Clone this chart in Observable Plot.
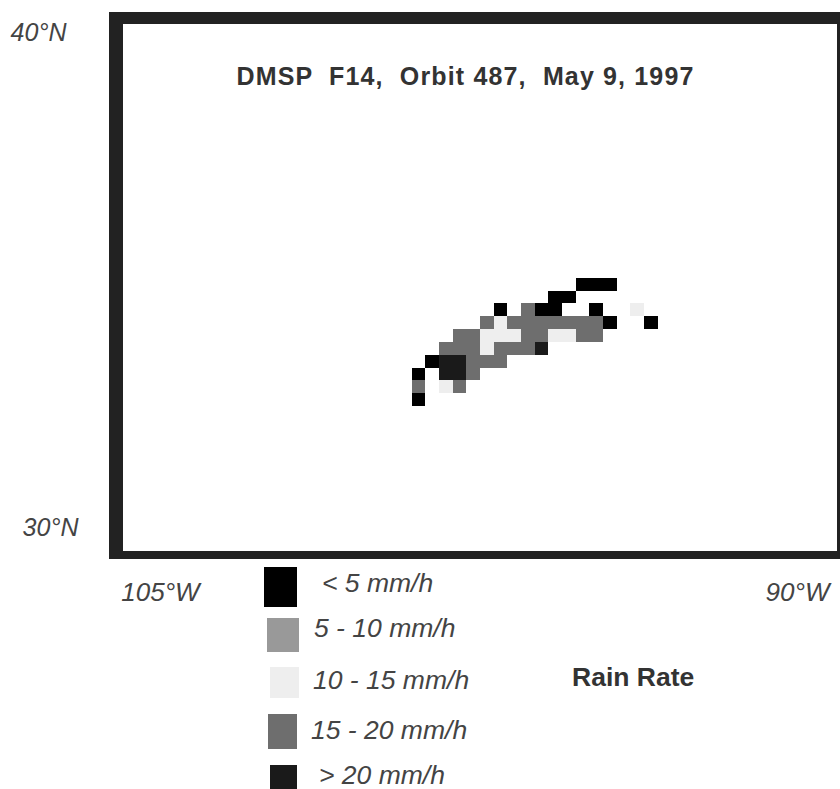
<!DOCTYPE html>
<html><head><meta charset="utf-8">
<script src="https://cdn.jsdelivr.net/npm/d3@7"></script>
<script src="https://cdn.jsdelivr.net/npm/@observablehq/plot@0.6"></script>
<style>
html,body{margin:0;padding:0;background:#fff;width:840px;height:789px;overflow:hidden}
#wrap{position:relative;width:840px;height:789px}
#legend{position:absolute;left:0;top:0;width:840px;height:789px;font-family:"Liberation Sans",Arial,sans-serif}
#legend .sw{position:absolute}
#legend .lb{position:absolute;font-style:italic;font-size:26.5px;color:#444;white-space:nowrap;line-height:24px}
#legend .rr{position:absolute;font-weight:bold;font-size:26.5px;color:#333;white-space:nowrap;line-height:24px}
</style></head><body>
<div id="wrap"><div id="chart"></div><div id="legend"></div></div>
<script>
const title = "DMSP  F14,  Orbit 487,  May 9, 1997";
const classes = ["< 5 mm/h","5 - 10 mm/h","10 - 15 mm/h","15 - 20 mm/h","> 20 mm/h"];
const classColors = ["#000000","#999999","#eeeeee","#6e6e6e","#1a1a1a"];
const lonTicks = [-105,-90];
// grid cells: [row, first column, last column, class index]
const cellRuns = [
 [0,12,14,0],
 [1,10,11,0],
 [2,6,6,0],[2,8,8,3],[2,9,10,0],[2,13,13,0],[2,16,16,2],
 [3,5,5,3],[3,6,6,2],[3,7,13,3],[3,14,14,0],[3,17,17,0],
 [4,3,4,3],[4,5,7,2],[4,8,9,3],[4,10,11,2],[4,12,13,3],
 [5,2,4,3],[5,5,5,2],[5,6,8,3],[5,9,9,4],
 [6,1,1,0],[6,2,3,4],[6,4,6,3],
 [7,0,0,0],[7,2,3,4],[7,4,4,3],
 [8,0,0,3],[8,2,2,2],[8,3,3,3],
 [9,0,0,0]
];
// grid origin and cell size, in degrees
const lonStart = -99.07, lonStep = 0.3218, latStart = 35.036, latStep = 0.2592;
const cells = cellRuns.map(([r,c0,c1,k]) => ({
  x1: lonStart + c0*lonStep, x2: lonStart + (c1+1)*lonStep,
  y1: latStart - r*latStep, y2: latStart - (r+1)*latStep, k
}));
const fmtLat = d => `${d}°N`, fmtLon = d => `${-d}°W`;
const xs = d3.scaleLinear().domain([-105,-90]).range([160,797]);
const ys = d3.scaleLinear().domain([40,30]).range([32,527]);
const box = (l,r,t,b) => ({x1:xs.invert(l),x2:xs.invert(r),y1:ys.invert(t),y2:ys.invert(b)});
const rectOpts = {x1:"x1",x2:"x2",y1:"y1",y2:"y2"};
const chart = Plot.plot({
  width:840, height:789, margin:0, style:{background:"#fff",fontFamily:"Liberation Sans, Arial, sans-serif"},
  x:{domain:[xs.invert(0),xs.invert(840)],range:[0,840],axis:null},
  y:{domain:[ys.invert(0),ys.invert(789)],range:[0,789],axis:null},
  color:{domain:d3.range(5),range:classColors},
  marks:[
    Plot.rect([box(109,840,12,559)],{...rectOpts,fill:"#222"}),
    Plot.rect([box(123,837,24,551)],{...rectOpts,fill:"white"}),
    Plot.rect(cells,{...rectOpts,fill:d=>d.k,shapeRendering:"crispEdges"}),
    Plot.text([title],{x:xs.invert(465),y:ys.invert(76),text:d=>d,fontSize:25,fontWeight:"bold",fill:"#333",textAnchor:"middle"}),
    Plot.text([40],{x:-105,dx:-122,y:d=>d,text:fmtLat,fontSize:25,fontStyle:"italic",fill:"#444"}),
    Plot.text([30],{x:-105,dx:-110,y:d=>d,text:fmtLat,fontSize:25,fontStyle:"italic",fill:"#444"}),
    Plot.text(lonTicks,{x:d=>d,y:40,dy:560,text:fmtLon,fontSize:26,fontStyle:"italic",fill:"#444"})
  ]
});
d3.select(chart).selectAll("text").filter(function(){return this.textContent===title;}).style("letter-spacing","1.15px");
document.getElementById("chart").appendChild(chart);
const geom = [[264,567,33,40,322,571],[267,618,32,34,314,616],[270,667,29,31,313,668],[268,714,29,35,311,718],[270,765,27,24,319,763]];
const lg = document.getElementById("legend");
classes.forEach((c,i)=>{
  const [x,y,w,h,tx,ty]=geom[i];
  const s=document.createElement("div");s.className="sw";
  s.style.cssText=`left:${x}px;top:${y}px;width:${w}px;height:${h}px;background:${classColors[i]}`;
  lg.appendChild(s);
  const t=document.createElement("div");t.className="lb";t.textContent=c;
  t.style.left=tx+"px";t.style.top=ty+"px";lg.appendChild(t);
});
const rr=document.createElement("div");rr.className="rr";rr.textContent="Rain Rate";
rr.style.left="572px";rr.style.top="665px";lg.appendChild(rr);
</script>
</body></html>
